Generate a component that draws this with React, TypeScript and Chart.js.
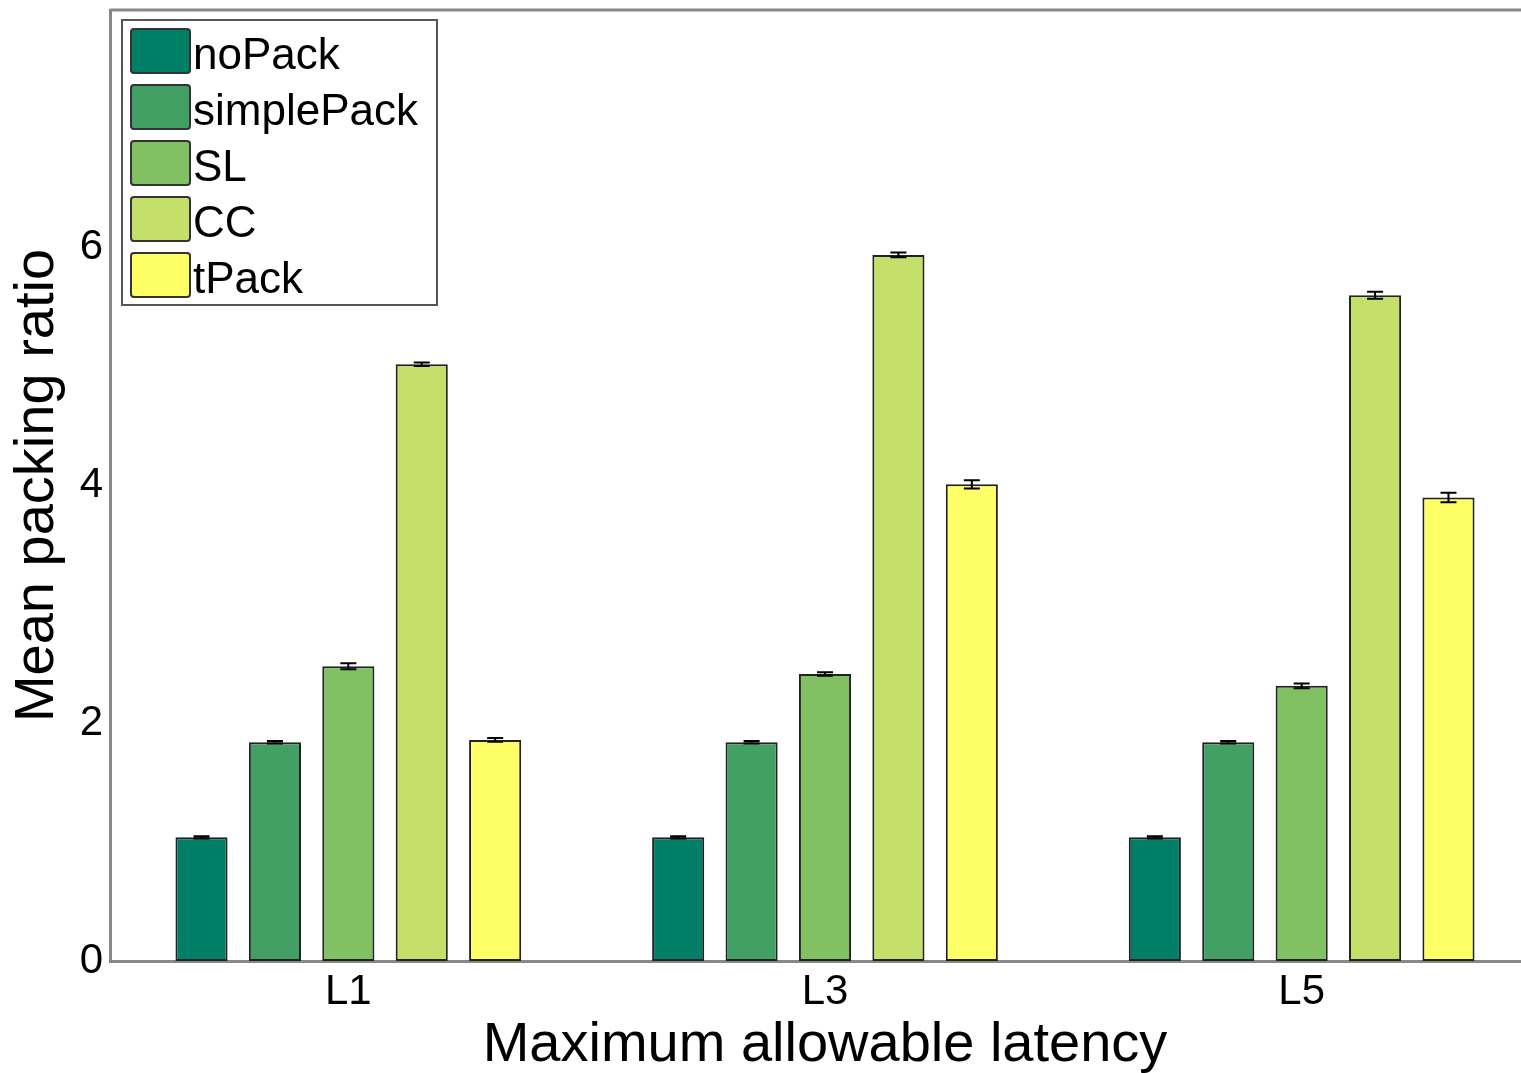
import React, { useEffect, useRef } from 'react';
import { Chart, registerables } from 'chart.js';

Chart.register(...registerables);

const categories = ['L1', 'L3', 'L5'];
const seriesNames = ['noPack', 'simplePack', 'SL', 'CC', 'tPack'];
const seriesColors = ['#007f66', '#42a065', '#82c064', '#c4e06a', '#ffff66'];

const noPack = [1.04, 1.04, 1.04];
const simplePack = [1.84, 1.84, 1.84];
const SL = [2.48, 2.415, 2.315];
const CC = [5.02, 5.94, 5.6];
const tPack = [1.86, 4.01, 3.9];

const noPackErr = [0.01, 0.01, 0.01];
const simplePackErr = [0.01, 0.01, 0.01];
const SLErr = [0.025, 0.015, 0.02];
const CCErr = [0.015, 0.02, 0.03];
const tPackErr = [0.015, 0.035, 0.04];

const yTicks = [0, 2, 4, 6];
const yMin = 0;
const yMax = 8;

const xTitle = 'Maximum allowable latency';
const yTitle = 'Mean packing ratio';

const seriesValues = [noPack, simplePack, SL, CC, tPack];
const seriesErrors = [noPackErr, simplePackErr, SLErr, CCErr, tPackErr];

const FONT = '"Liberation Sans", Arial, sans-serif';

const errorBarPlugin = {
  id: 'errorBars',
  afterDatasetsDraw(chart: any) {
    const ctx = chart.ctx;
    const y = chart.scales.y;
    ctx.save();
    ctx.strokeStyle = '#000';
    ctx.lineWidth = 2;
    chart.data.datasets.forEach((ds: any, i: number) => {
      const meta = chart.getDatasetMeta(i);
      meta.data.forEach((el: any, j: number) => {
        const v = ds.data[j];
        const e = seriesErrors[i][j];
        const yt = y.getPixelForValue(v + e);
        const yb = y.getPixelForValue(v - e);
        const x = el.x;
        const hw = 8;
        ctx.beginPath();
        ctx.moveTo(x, yt);
        ctx.lineTo(x, yb);
        ctx.moveTo(x - hw, yt);
        ctx.lineTo(x + hw, yt);
        ctx.moveTo(x - hw, yb);
        ctx.lineTo(x + hw, yb);
        ctx.stroke();
      });
    });
    ctx.restore();
  },
};

const framePlugin = {
  id: 'frameAndLegend',
  afterDraw(chart: any) {
    const ctx = chart.ctx;
    const area = chart.chartArea;
    ctx.save();
    ctx.strokeStyle = '#888';
    ctx.lineWidth = 3;
    ctx.beginPath();
    ctx.moveTo(area.left, area.top);
    ctx.lineTo(area.right, area.top);
    ctx.stroke();

    const bx = area.left + 12;
    const by = area.top + 10;
    const bw = 315;
    const bh = 285;
    ctx.fillStyle = '#fff';
    ctx.fillRect(bx, by, bw, bh);
    ctx.strokeStyle = '#555';
    ctx.lineWidth = 2;
    ctx.strokeRect(bx, by, bw, bh);

    ctx.font = `44px ${FONT}`;
    ctx.textAlign = 'left';
    ctx.textBaseline = 'alphabetic';
    chart.data.datasets.forEach((ds: any, i: number) => {
      const sy = by + 9 + i * 56;
      const sx = bx + 9;
      ctx.fillStyle = ds.backgroundColor;
      ctx.strokeStyle = '#333';
      ctx.lineWidth = 2;
      ctx.beginPath();
      if ((ctx as any).roundRect) {
        (ctx as any).roundRect(sx, sy, 59, 44, 3);
      } else {
        ctx.rect(sx, sy, 59, 44);
      }
      ctx.fill();
      ctx.stroke();
      ctx.fillStyle = '#000';
      ctx.fillText(ds.label, sx + 62, sy + 40);
    });
    ctx.restore();
  },
};

export default function App() {
  const canvasRef = useRef<HTMLCanvasElement | null>(null);

  useEffect(() => {
    document.body.style.margin = '0';
    const canvas = canvasRef.current;
    if (!canvas) return;
    const chart = new Chart(canvas, {
      type: 'bar',
      data: {
        labels: categories,
        datasets: seriesNames.map((name, i) => ({
          label: name,
          data: seriesValues[i],
          backgroundColor: seriesColors[i],
          borderColor: '#222',
          borderWidth: 2,
          borderSkipped: false,
          categoryPercentage: 0.77,
          barPercentage: 0.71,
        })),
      },
      options: {
        responsive: false,
        animation: false,
        devicePixelRatio: 1,
        layout: { padding: { top: 10, right: 0, left: 0, bottom: 0 } },
        plugins: {
          legend: { display: false },
          tooltip: { enabled: false },
        },
        scales: {
          x: {
            grid: { display: false, drawTicks: false },
            border: { display: true, color: '#888', width: 3 },
            ticks: {
              color: '#000',
              font: { family: FONT, size: 42 },
              padding: 6,
            },
            title: {
              display: true,
              text: xTitle,
              color: '#000',
              font: { family: FONT, size: 56, lineHeight: 1 },
              padding: { top: 0, bottom: -1 },
            },
            afterFit(scale: any) {
              scale.height = 112;
              scale.paddingLeft = 0;
              scale.paddingRight = 0;
            },
          },
          y: {
            min: yMin,
            max: yMax,
            grid: { display: false, drawTicks: false },
            border: { display: true, color: '#888', width: 3 },
            afterBuildTicks(scale: any) {
              scale.ticks = yTicks.map((v) => ({ value: v }));
            },
            ticks: {
              color: '#000',
              font: { family: FONT, size: 42 },
              padding: 7,
              callback: (v: any) => String(v),
            },
            title: {
              display: true,
              text: yTitle,
              color: '#000',
              font: { family: FONT, size: 56, lineHeight: 1 },
              padding: { top: 10, bottom: 0 },
            },
            afterFit(scale: any) {
              scale.width = 110;
              scale.paddingTop = 0;
              scale.paddingBottom = 0;
            },
          },
        },
      },
      plugins: [errorBarPlugin, framePlugin],
    });
    return () => chart.destroy();
  }, []);

  return (
    <div style={{ width: 1521, height: 1073, overflow: 'hidden', background: '#fff' }}>
      <canvas
        ref={canvasRef}
        width={1540}
        height={1073}
        style={{ display: 'block', width: 1540, height: 1073 }}
      />
    </div>
  );
}
